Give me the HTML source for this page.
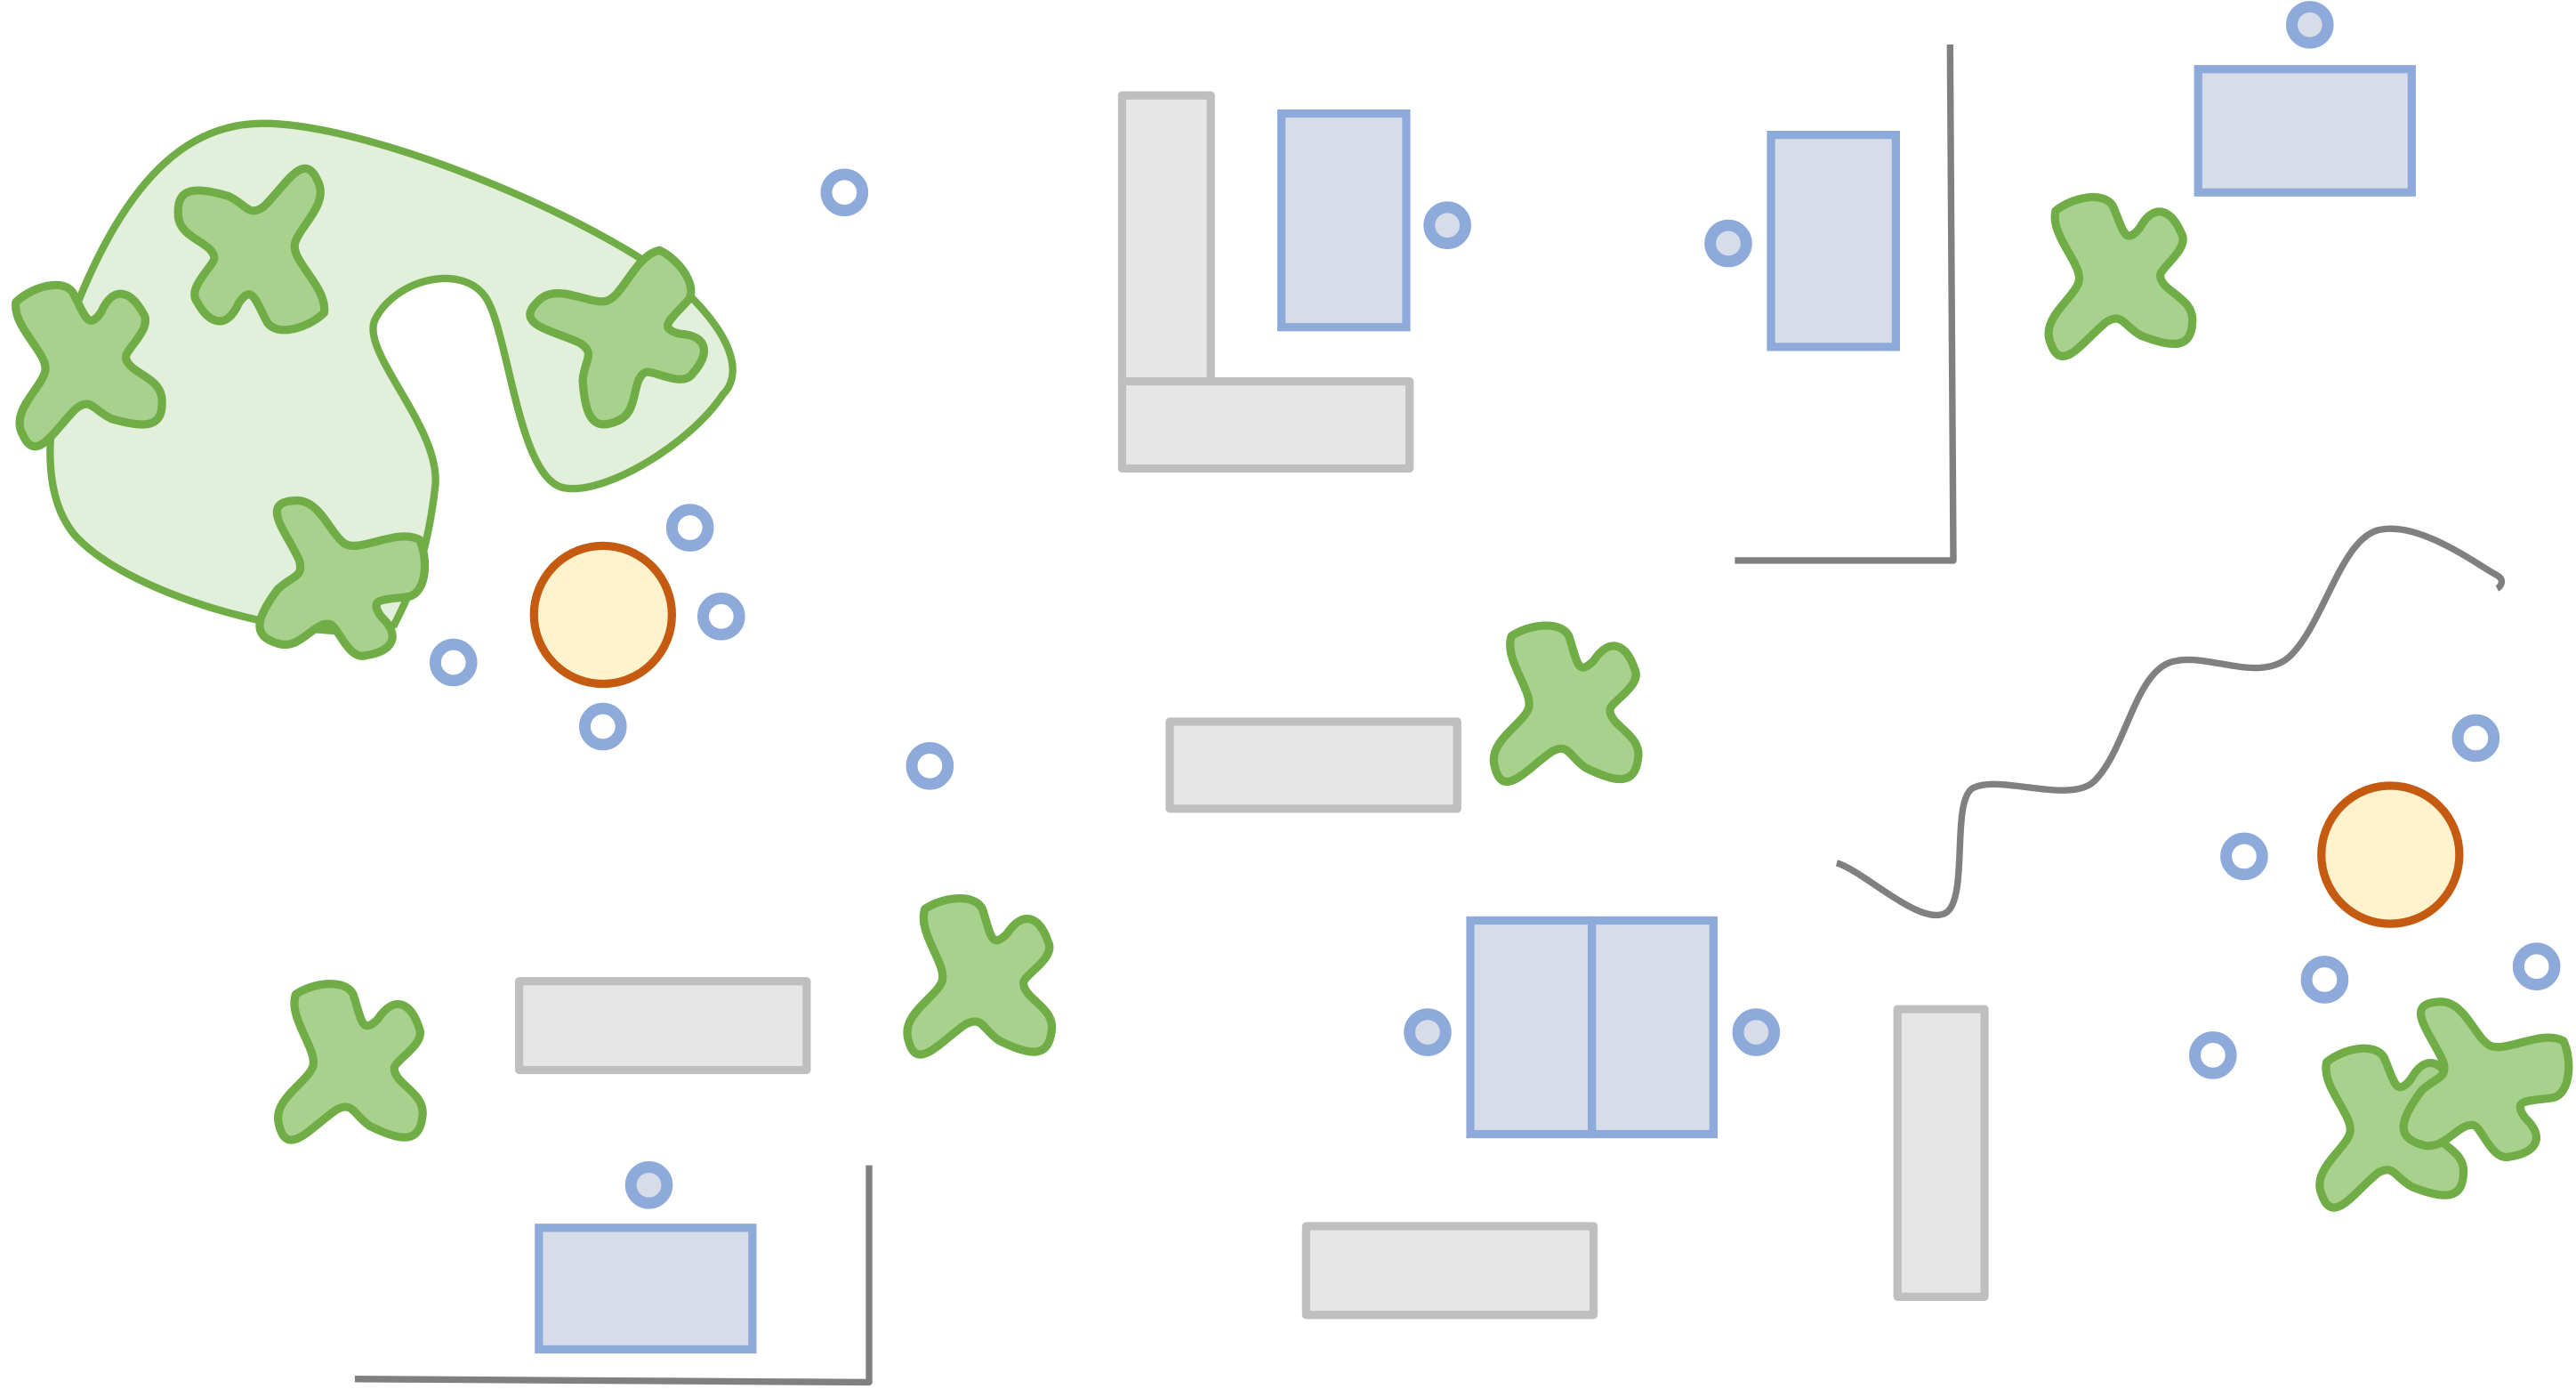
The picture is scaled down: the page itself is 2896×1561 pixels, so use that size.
<!DOCTYPE html>
<html><head><meta charset="utf-8"><style>
html,body{margin:0;padding:0;background:#fff;}
svg{display:block;}
</style></head><body>
<svg width="2896" height="1561" viewBox="0 0 1568 845" xmlns="http://www.w3.org/2000/svg">
<defs>
<path id="pl" d="M -35,-45 C -25,-52 -5,-55 0,-45 C 5,-30 5,-20 15,-30 C 25,-45 35,-40 40,-25 C 45,-15 25,-5 25,0 C 25,10 45,15 42,30 C 40,45 30,45 10,35 C 0,28 0,20 -10,25 C -25,35 -40,55 -45,35 C -50,20 -30,10 -25,0 C -20,-10 -40,-30 -35,-45 Z" fill="#a9d18e" stroke="#70ad47" stroke-width="5" stroke-linejoin="round"/>
</defs>
<path d="M 45,190 C 80,100 120,75 160,75 C 230,75 380,140 420,180 C 450,210 450,230 440,240 C 420,270 370,300 345,297 C 315,295 310,200 295,180 C 280,160 240,170 228,195 C 220,215 268,260 265,295 C 260,340 250,360 240,380 C 200,395 80,365 45,325 C 25,300 30,260 35,240 Z" fill="#e2efda" stroke="#70ad47" stroke-width="4.5"/>
<use href="#pl" transform="translate(52,222) rotate(-10)"/>
<use href="#pl" transform="translate(155,152) rotate(170)"/>
<use href="#pl" transform="translate(380,205) rotate(60)"/>
<use href="#pl" transform="translate(205,355) rotate(100)"/>
<use href="#pl" transform="translate(955,432)"/>
<use href="#pl" transform="translate(598,598)"/>
<use href="#pl" transform="translate(215,650)"/>
<use href="#pl" transform="translate(1290,170) rotate(-5)"/>
<use href="#pl" transform="translate(1455,688) rotate(-5)"/>
<use href="#pl" transform="translate(1510,660) rotate(100)"/>
<g fill="#e6e6e6" stroke="#bfbfbf" stroke-width="5" stroke-linejoin="round">
<rect x="683" y="58" width="54" height="174"/>
<rect x="683" y="232" width="175" height="53"/>
<rect x="712" y="439" width="175" height="53"/>
<rect x="316" y="597" width="175" height="54"/>
<rect x="795" y="746" width="175" height="54"/>
<rect x="1155" y="614" width="53" height="175"/>
</g>
<g fill="#d6dde8" stroke="#8eaadb" stroke-width="5">
<rect x="780" y="69" width="76" height="130"/>
<rect x="1078" y="82" width="76" height="129"/>
<rect x="1338" y="42" width="130" height="75"/>
<rect x="328" y="747" width="130" height="74"/>
<rect x="895" y="560" width="74" height="130"/>
<rect x="969" y="560" width="74" height="130"/>
</g>
<g stroke="#8eaadb" stroke-width="7" fill="#fff">
<circle cx="514" cy="117" r="11"/><circle cx="420" cy="321" r="11"/><circle cx="439" cy="375" r="11"/>
<circle cx="276" cy="403" r="11"/><circle cx="367" cy="442" r="11"/><circle cx="566" cy="466" r="11"/>
<circle cx="1507" cy="449" r="11"/><circle cx="1366" cy="521" r="11"/><circle cx="1415" cy="596" r="11"/>
<circle cx="1544" cy="588" r="11"/><circle cx="1347" cy="642" r="11"/>
</g>
<g stroke="#8eaadb" stroke-width="7" fill="#d6dde8">
<circle cx="881" cy="137" r="11"/><circle cx="1052" cy="148" r="11"/><circle cx="1406" cy="15" r="11"/>
<circle cx="869" cy="628" r="11"/><circle cx="1069" cy="628" r="11"/><circle cx="395" cy="721" r="11"/>
</g>
<g fill="#fff2cc" stroke="#c55a11" stroke-width="5">
<circle cx="367" cy="374" r="42"/><circle cx="1455" cy="520" r="42"/>
</g>
<g fill="none" stroke="#808080" stroke-width="4" stroke-linejoin="round">
<path d="M1187,27 L1189,341 L1056,341"/>
<path d="M529,709 L529,841 L216,839"/>
<path d="M1118,525 C1135,530 1170,565 1185,555 C1198,545 1188,490 1200,480 C1215,470 1260,490 1275,475 C1295,455 1300,405 1325,402 C1345,398 1375,415 1393,400 C1415,380 1425,325 1450,322 C1475,318 1510,345 1520,350 C1525,353 1522,357 1520,358"/>
</g>
</svg>
</body></html>
